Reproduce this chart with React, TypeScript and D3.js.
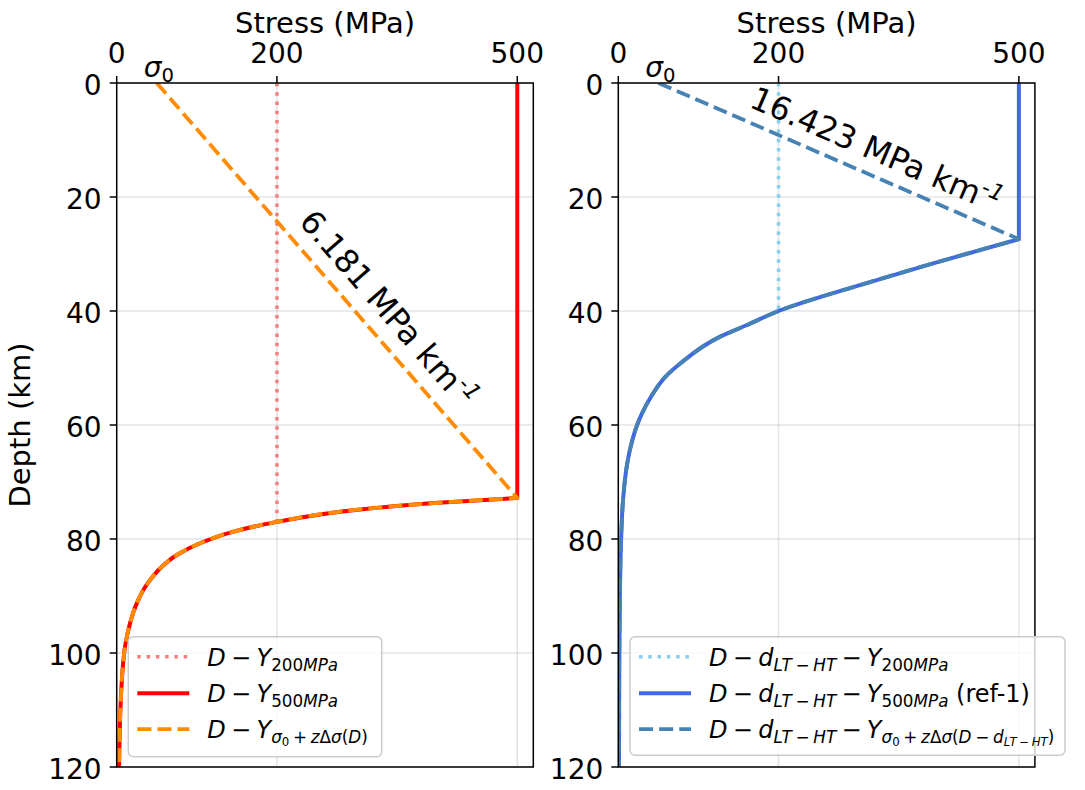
import React from 'react';
import * as d3 from 'd3';

// ---------- data ----------
const xTicks = [0, 200, 500];
const yTicks = [0, 20, 40, 60, 80, 100, 120];
const xDomain = [0, 520];
const yDomain = [0, 120];
const sigma0 = 50;
const capLow = 200;
const capHigh = 500;
const gradientLeft = 6.181;
const gradientRight = 16.423;

// ductile branch (depth km, stress MPa)
const depthLeft = [72.8, 73.7, 74.9, 77.0, 78.7, 80.75, 82.8, 84.9, 87.8, 91.3, 94.8, 98.9, 104, 110, 120];
const stressLeft = [500, 396, 298, 200, 146, 104, 75, 56, 38.5, 25, 16.6, 10.4, 6.8, 4.6, 3.0];
const depthRight = [27.4, 31.6, 35.1, 40, 42.5, 44.8, 48.9, 51.5, 55, 58, 60, 63.2, 67.3, 73, 80, 90, 100, 120];
const stressRight = [500, 394, 310, 200, 160, 123, 80, 59, 41, 29.5, 23.5, 16.5, 10.5, 6, 3.5, 2, 1.3, 0.8];

// b: binary operator (spaced), i: italic, l: script level
type Seg = { t: string; i?: boolean; l?: number; b?: boolean };

const legendLeft: Seg[][] = [
  [{ t: 'D', i: true }, { t: '\u2212', b: true }, { t: 'Y', i: true }, { t: '200', l: 1 }, { t: 'MPa', l: 1, i: true }],
  [{ t: 'D', i: true }, { t: '\u2212', b: true }, { t: 'Y', i: true }, { t: '500', l: 1 }, { t: 'MPa', l: 1, i: true }],
  [
    { t: 'D', i: true }, { t: '\u2212', b: true }, { t: 'Y', i: true },
    { t: 'σ', l: 1, i: true }, { t: '0', l: 2 }, { t: '+', l: 1, b: true }, { t: 'z', l: 1, i: true },
    { t: 'Δ', l: 1 }, { t: 'σ', l: 1, i: true }, { t: '(', l: 1 }, { t: 'D', l: 1, i: true }, { t: ')', l: 1 },
  ],
];
const dlt: Seg[] = [{ t: 'd', i: true }, { t: 'LT', l: 1, i: true }, { t: '\u2212', l: 1, b: true }, { t: 'HT', l: 1, i: true }];
const legendRight: Seg[][] = [
  [{ t: 'D', i: true }, { t: '\u2212', b: true }, ...dlt, { t: '\u2212', b: true }, { t: 'Y', i: true }, { t: '200', l: 1 }, { t: 'MPa', l: 1, i: true }],
  [{ t: 'D', i: true }, { t: '\u2212', b: true }, ...dlt, { t: '\u2212', b: true }, { t: 'Y', i: true }, { t: '500', l: 1 }, { t: 'MPa', l: 1, i: true }, { t: ' (ref-1)' }],
  [
    { t: 'D', i: true }, { t: '\u2212', b: true }, ...dlt, { t: '\u2212', b: true }, { t: 'Y', i: true },
    { t: 'σ', l: 1, i: true }, { t: '0', l: 2 }, { t: '+', l: 1, b: true }, { t: 'z', l: 1, i: true },
    { t: 'Δ', l: 1 }, { t: 'σ', l: 1, i: true }, { t: '(', l: 1 }, { t: 'D', l: 1, i: true },
    { t: '\u2212', l: 1, b: true }, { t: 'd', l: 1, i: true }, { t: 'LT', l: 2, i: true }, { t: '\u2212', l: 2, b: true },
    { t: 'HT', l: 2, i: true }, { t: ')', l: 1 },
  ],
];

// ---------- layout ----------
const W = 1085;
const H = 790;
const TOP = 83;
const BOTTOM = 767;
const PW = 416.6;
const FONT = 'DejaVu Sans';
const LEG_FS = 24;

const panels = [
  {
    left: 116.7,
    depth: depthLeft,
    stress: stressLeft,
    gradient: gradientLeft,
    colors: { dot: '#f08080', solid: '#ff0000', dash: '#ff8c00' },
    legend: legendLeft,
    legendBox: { x: 128.3, y: 636.7, w: 253.4, h: 120 },
    label: { s: 338.7, d: 39.65 },
  },
  {
    left: 618.3,
    depth: depthRight,
    stress: stressRight,
    gradient: gradientRight,
    colors: { dot: '#87ceeb', solid: '#4169e1', dash: '#4682b4' },
    legend: legendRight,
    legendBox: { x: 630, y: 636.7, w: 435, h: 118.5 },
    label: { s: 321.7, d: 11.75 },
  },
];

function MathText({ segs, x, y, fs, anchor }: { segs: Seg[]; x: number; y: number; fs: number; anchor?: string }) {
  let cur = 0;
  let pending = 0;
  const off = (l: number) => (l === 1 ? 0.2 * fs : l === 2 ? 0.33 * fs : l === -1 ? -0.4 * fs : 0);
  const size = (l: number) => (l === 1 ? 0.7 * fs : l === 2 ? 0.49 * fs : l === -1 ? 0.7 * fs : fs);
  return (
    <text x={x} y={y} fontSize={fs} fontFamily={FONT} textAnchor={anchor || 'start'} xmlSpace="preserve" style={{ whiteSpace: 'pre' }}>
      {segs.map((s, k) => {
        const lv = s.l || 0;
        const dy = off(lv) - cur;
        cur = off(lv);
        const gap = s.b ? 0.22 * size(lv) : 0;
        const dx = pending + gap;
        pending = gap;
        return (
          <tspan key={k} dx={dx} dy={dy} fontSize={size(lv)} fontStyle={s.i ? 'italic' : 'normal'}>
            {s.t}
          </tspan>
        );
      })}
    </text>
  );
}

function Panel({ p, idx }: { p: (typeof panels)[number]; idx: number }) {
  const x = d3.scaleLinear().domain(xDomain).range([p.left, p.left + PW]);
  const y = d3.scaleLinear().domain(yDomain).range([TOP, BOTTOM]);
  const pts = p.depth.map((d, i) => [p.stress[i], d] as [number, number]);
  const curve = d3
    .line<[number, number]>()
    .x((d) => x(d[0]))
    .y((d) => y(d[1]))
    .curve(d3.curveMonotoneY);
  const withHead = (start: [number, number], rest: [number, number][]) => {
    const c = curve(rest) || '';
    return `M${x(start[0])},${y(start[1])}L` + c.slice(1);
  };
  const lowPts = pts.filter((q) => q[0] <= capLow);
  const dotPath = withHead([capLow, 0], lowPts);
  const solidPath = withHead([capHigh, 0], pts);
  const dashPath = withHead([sigma0, 0], pts);
  const clipId = `clip${idx}`;
  const lwSolid = 4;
  const lwDash = 3.8;
  const lwDot = 3.5;
  const dotDash = `${lwDot},${lwDot * 1.65}`;
  const dashDash = `${3.7 * lwDash},${1.6 * lwDash}`;
  const kneeDepth = (capHigh - sigma0) / p.gradient;
  const ang = (Math.atan2(y(kneeDepth) - y(0), x(capHigh) - x(sigma0)) * 180) / Math.PI;
  const lx = x(p.label.s);
  const ly = y(p.label.d);
  const cx = p.left + PW / 2;
  const lb = p.legendBox;
  const rowY = [lb.y + 20, lb.y + 56.5, lb.y + 92.5];
  const hx1 = lb.x + 9;
  const hx2 = lb.x + 61;
  const tx = lb.x + 79;
  const gridColor = '#b0b0b0';
  return (
    <g>
      <defs>
        <clipPath id={clipId}>
          <rect x={p.left} y={TOP} width={PW} height={BOTTOM - TOP} />
        </clipPath>
      </defs>
      {/* grid */}
      {xTicks.map((t) => (
        <line key={'gx' + t} x1={x(t)} x2={x(t)} y1={TOP} y2={BOTTOM} stroke={gridColor} strokeOpacity={0.35} strokeWidth={1.5} />
      ))}
      {yTicks.map((t) => (
        <line key={'gy' + t} x1={p.left} x2={p.left + PW} y1={y(t)} y2={y(t)} stroke={gridColor} strokeOpacity={0.35} strokeWidth={1.5} />
      ))}
      {/* lines */}
      <g clipPath={`url(#${clipId})`} fill="none">
        <path d={dotPath} stroke={p.colors.dot} strokeWidth={lwDot} strokeDasharray={dotDash} />
        <path d={solidPath} stroke={p.colors.solid} strokeWidth={lwSolid} strokeLinejoin="round" />
        <path d={dashPath} stroke={p.colors.dash} strokeWidth={lwDash} strokeDasharray={dashDash} strokeLinejoin="round" />
      </g>
      {/* spines */}
      <rect x={p.left} y={TOP} width={PW} height={BOTTOM - TOP} fill="none" stroke="#000" strokeWidth={1.5} />
      {/* x ticks (top) */}
      {xTicks.map((t) => (
        <g key={'xt' + t}>
          <line x1={x(t)} x2={x(t)} y1={TOP} y2={TOP - 7} stroke="#000" strokeWidth={1.5} />
          <text x={x(t)} y={63} fontSize={28} fontFamily={FONT} textAnchor="middle">
            {t}
          </text>
        </g>
      ))}
      {/* y ticks */}
      {yTicks.map((t) => (
        <g key={'yt' + t}>
          <line x1={p.left} x2={p.left - 7} y1={y(t)} y2={y(t)} stroke="#000" strokeWidth={1.5} />
          <text x={p.left - 15} y={y(t) + 12} fontSize={28} fontFamily={FONT} textAnchor="end">
            {t}
          </text>
        </g>
      ))}
      <text x={cx} y={33} fontSize={29} fontFamily={FONT} textAnchor="middle">
        Stress (MPa)
      </text>
      {/* sigma0 marker */}
      <MathText segs={[{ t: 'σ', i: true }, { t: '0', l: 1 }]} x={x(sigma0) - 13} y={76.5} fs={28} />
      {/* gradient label */}
      <g transform={`translate(${lx},${ly}) rotate(${ang})`}>
        <MathText
          segs={[{ t: `${p.gradient.toFixed(3)} MPa km` }, { t: '-1', l: -1, i: true }]}
          x={0}
          y={11}
          fs={32}
          anchor="middle"
        />
      </g>
      {/* legend */}
      <rect x={lb.x} y={lb.y} width={lb.w} height={lb.h} rx={5} ry={5} fill="#fff" fillOpacity={0.8} stroke="#cccccc" strokeWidth={1.5} />
      <line x1={hx1} x2={hx2} y1={rowY[0]} y2={rowY[0]} stroke={p.colors.dot} strokeWidth={lwDot} strokeDasharray={dotDash} />
      <line x1={hx1} x2={hx2} y1={rowY[1]} y2={rowY[1]} stroke={p.colors.solid} strokeWidth={lwSolid} />
      <line x1={hx1} x2={hx2} y1={rowY[2]} y2={rowY[2]} stroke={p.colors.dash} strokeWidth={lwDash} strokeDasharray={dashDash} />
      {p.legend.map((segs, k) => (
        <MathText key={k} segs={segs} x={tx} y={rowY[k] + 9} fs={LEG_FS} />
      ))}
    </g>
  );
}

export default function App() {
  return (
    <div style={{ position: 'absolute', left: 0, top: 0 }}>
      <svg width={W} height={H} viewBox={`0 0 ${W} ${H}`} style={{ display: 'block', background: '#fff' }}>
        <rect x={0} y={0} width={W} height={H} fill="#fff" />
        <text transform={`translate(30,425) rotate(-90)`} fontSize={29} fontFamily={FONT} textAnchor="middle">
          Depth (km)
        </text>
        {panels.map((p, i) => (
          <Panel key={i} p={p} idx={i} />
        ))}
      </svg>
    </div>
  );
}
